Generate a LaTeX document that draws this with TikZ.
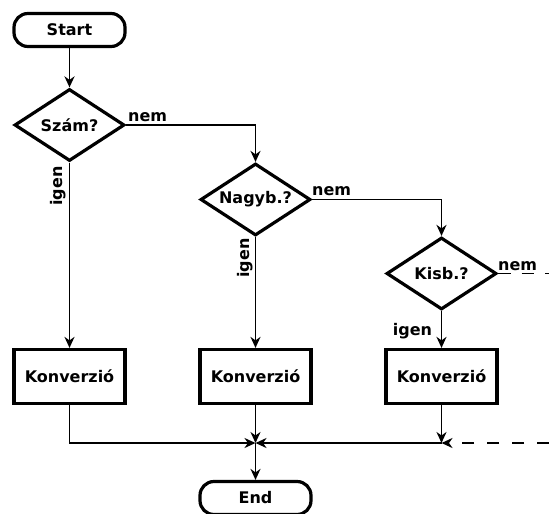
\documentclass[tikz,border=0pt]{standalone}
\usepackage{fontspec}
\setmainfont{DejaVu Sans}
\usetikzlibrary{shapes.geometric,arrows.meta}
\begin{document}
\begin{tikzpicture}[x=1pt,y=1pt,
  font=\fontsize{16}{19}\selectfont\bfseries,
  box/.style={draw, line width=3.2pt, inner sep=0pt, minimum width=111pt, minimum height=54pt},
  term/.style={draw, line width=3.2pt, rounded corners=14pt, inner sep=0pt, minimum width=111pt, minimum height=33pt},
  decision/.style={draw, diamond, aspect=1.5, line width=3.2pt, inner sep=0pt, minimum width=110pt, minimum height=72pt},
  conn/.style={line width=1.9pt},
  arr/.style={conn, -{Stealth[length=11pt,width=10pt,inset=3.5pt]}},
  dashline/.style={conn, dash pattern=on 12.5pt off 11pt},
  lbl/.style={inner sep=0pt}]
  \useasboundingbox (0,0) rectangle (549,-514);

  % main nodes
  \node[term] (start) at (69.5,-30) {Start};
  \node[decision] (d1) at (69.5,-125) {Szám?};
  \node[decision] (d2) at (255.5,-199.5) {Nagyb.?};
  \node[decision] (d3) at (441.5,-273.5) {Kisb.?};
  \node[box] (k1) at (69.5,-376.5) {Konverzió};
  \node[box] (k2) at (255.5,-376.5) {Konverzió};
  \node[box] (k3) at (441.5,-376.5) {Konverzió};
  \node[term] (end) at (255.5,-498) {End};

  % junction points
  \coordinate (j) at (255.5,-443);
  \coordinate (jr) at (441.5,-443);
  \coordinate (jout) at (549,-443);
  \coordinate (d3out) at (549,-273.5);

  % branch labels
  \node[lbl, anchor=base west] (n1) at (128,-121) {nem};
  \node[lbl, anchor=base west] (n2) at (312,-195) {nem};
  \node[lbl, anchor=base west] (n3) at (498,-270) {nem};
  \node[lbl, rotate=90] (i1) at (58.5,-186) {igen};
  \node[lbl, rotate=90] (i2) at (245,-258) {igen};
  \node[lbl, anchor=base] (i3) at (412.5,-335) {igen};

  % connectors
  \draw[arr] (start) -- (d1);
  \draw[arr] (d1.east) -| (d2.north);
  \draw[arr] (d2.east) -| (d3.north);
  \draw[dashline] (d3.east) -- (d3out);
  \draw[arr] (d1.south) -- (k1.north);
  \draw[arr] (d2.south) -- (k2.north);
  \draw[arr] (d3.south) -- (k3.north);
  \draw[arr] (k1.south) |- (j);
  \draw[arr] (k2.south) -- (j);
  \draw[arr] (jr) -- (j);
  \draw[arr] (k3.south) -- (jr);
  \draw[arr, dash pattern=on 12.5pt off 12.5pt] (jout) -- (jr);
  \draw[arr] (j) -- (end.north);
\end{tikzpicture}
\end{document}
